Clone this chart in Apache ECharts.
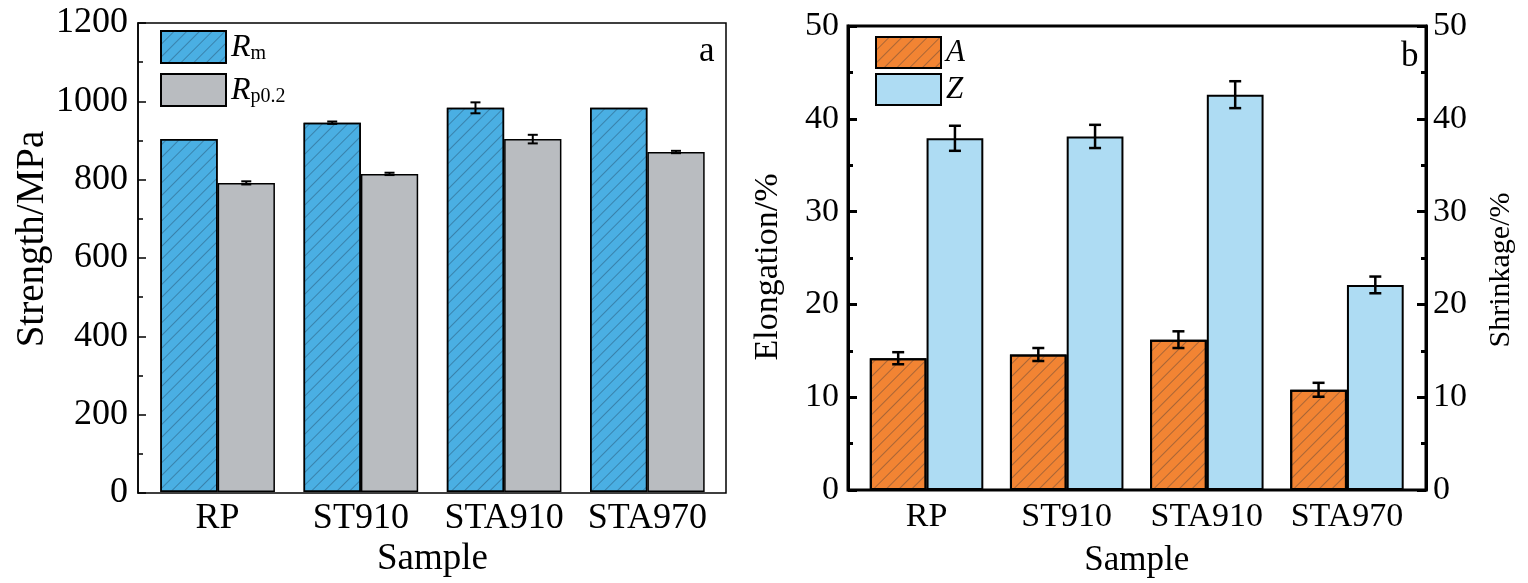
<!DOCTYPE html>
<html lang="en">

<head>
    <meta charset="UTF-8">
    <title>Strength and plasticity</title>
    <script src="https://cdn.jsdelivr.net/npm/echarts@6/dist/echarts.min.js"></script>
    <style>
        body {
            margin: 0;
            background: #fff;
        }

        #container {
            width: 1528px;
            height: 583px;
        }
    </style>
</head>

<body>
    <div id="container"></div>
</body>
<script>
    // data
    var samples = ['RP', 'ST910', 'STA910', 'STA970'];
    var rmVals = [903, 945, 983, 983];
    var rmErr = [0, 3, 14, 0];
    var rpVals = [791, 814, 903, 870];
    var rpErr = [4, 3, 11, 3];
    var aVals = [14.2, 14.6, 16.2, 10.8];
    var aErr = [0.65, 0.7, 0.9, 0.75];
    var zVals = [37.9, 38.1, 42.6, 22.1];
    var zErr = [1.35, 1.25, 1.45, 0.9];

    var FONT = 'Liberation Serif';
    var myChart = echarts.init(document.getElementById('container'));

    var hatch = {
        symbol: 'rect',
        symbolSize: 1,
        dashArrayX: [1, 0],
        dashArrayY: [1, 7.5],
        rotation: -Math.PI / 4,
        color: 'rgba(20,40,60,0.33)'
    };

    // error bar drawn on top of a bar; shift is fraction of the category band
    function errBar(shift, cap, lw) {
        return function (params, api) {
            var i = api.value(0), v = api.value(1), e = api.value(2);
            if (!e) return;
            var band = api.size([1, 0])[0];
            var x = api.coord([i, v])[0] + shift * band;
            var y1 = api.coord([i, v + e])[1];
            var y2 = api.coord([i, v - e])[1];
            var st = { stroke: '#000', lineWidth: lw };
            return {
                type: 'group',
                children: [
                    { type: 'line', shape: { x1: x, y1: y1, x2: x, y2: y2 }, style: st },
                    { type: 'line', shape: { x1: x - cap, y1: y1, x2: x + cap, y2: y1 }, style: st },
                    { type: 'line', shape: { x1: x - cap, y1: y2, x2: x + cap, y2: y2 }, style: st }
                ]
            };
        };
    }

    function triples(vals, errs) {
        return vals.map(function (v, k) { return [k, v, errs[k]]; });
    }

    function txt(size) {
        return { fontFamily: FONT, fontSize: size, color: '#000' };
    }
    function plain(v) { return String(v); }

    var option = {
        animation: false,
        title: [
            { text: 'a', left: 699, top: 34, padding: 0, textStyle: { fontFamily: FONT, fontSize: 35, fontWeight: 'normal', color: '#000' } },
            { text: 'b', left: 1401, top: 39, padding: 0, textStyle: { fontFamily: FONT, fontSize: 35, fontWeight: 'normal', color: '#000' } }
        ],
        legend: [
            {
                data: ['Rm', 'Rp0.2'],
                orient: 'vertical',
                left: 160,
                top: 30,
                padding: 0,
                icon: 'rect',
                itemWidth: 65,
                itemHeight: 32,
                itemGap: 9,
                formatter: function (name) {
                    return name === 'Rm' ? '{i|R}{s|m}' : '{i|R}{s|p0.2}';
                },
                textStyle: {
                    rich: {
                        i: { fontFamily: FONT, fontSize: 32, fontStyle: 'italic', color: '#000', lineHeight: 34, verticalAlign: 'bottom' },
                        s: { fontFamily: FONT, fontSize: 20, color: '#000', lineHeight: 15, verticalAlign: 'bottom' }
                    }
                }
            },
            {
                data: ['A', 'Z'],
                orient: 'vertical',
                left: 875,
                top: 36,
                padding: 0,
                icon: 'rect',
                itemWidth: 65,
                itemHeight: 31,
                itemGap: 4,
                textStyle: { fontFamily: FONT, fontSize: 31, fontStyle: 'italic', color: '#000' }
            }
        ],
        grid: [
            { left: 138, top: 23, width: 588, height: 470, show: true, borderColor: '#000', borderWidth: 1.5 },
            { left: 146, top: 23, width: 573, height: 470 },
            { left: 848, top: 26, width: 578, height: 464, show: true, borderColor: '#000', borderWidth: 3 },
            { left: 856.5, top: 26, width: 560.5, height: 464 }
        ],
        xAxis: [
            { gridIndex: 0, type: 'value', show: false },
            {
                gridIndex: 1, type: 'category', data: samples,
                axisLine: { show: false },
                axisTick: { inside: true, length: 7, lineStyle: { color: '#000', width: 1.5 } },
                axisLabel: Object.assign({ margin: 8, interval: 0 }, txt(36)),
                name: 'Sample', nameLocation: 'middle', nameGap: 45, nameTextStyle: txt(37)
            },
            { gridIndex: 2, type: 'value', show: false },
            {
                gridIndex: 3, type: 'category', data: samples,
                axisLine: { show: false },
                axisTick: { inside: true, length: 7, lineStyle: { color: '#000', width: 3 } },
                axisLabel: Object.assign({ margin: 10, interval: 0 }, txt(34)),
                name: 'Sample', nameLocation: 'middle', nameGap: 53, nameTextStyle: txt(35)
            },
            {
                gridIndex: 3, type: 'category', data: samples, position: 'bottom',
                axisLine: { show: false },
                axisTick: { inside: true, alignWithLabel: true, length: 4, lineStyle: { color: '#000', width: 3 } },
                axisLabel: { show: false }
            }
        ],
        yAxis: [
            {
                gridIndex: 0, type: 'value', min: 0, max: 1200, interval: 200,
                axisLine: { show: true, lineStyle: { color: '#000', width: 1.5 } },
                axisTick: { inside: true, length: 8, lineStyle: { color: '#000', width: 1.5 } },
                minorTick: { show: true, splitNumber: 2, length: 5, lineStyle: { color: '#000', width: 1.5 } },
                splitLine: { show: false },
                axisLabel: Object.assign({ margin: 10, formatter: plain }, txt(36)),
                name: 'Strength/MPa', nameLocation: 'middle', nameGap: 84,
                nameTextStyle: Object.assign({ padding: [0, 0, 0, 38] }, txt(39))
            },
            { gridIndex: 1, type: 'value', min: 0, max: 1200, show: false },
            {
                gridIndex: 2, type: 'value', min: 0, max: 50, interval: 10, position: 'left',
                axisLine: { show: true, lineStyle: { color: '#000', width: 3 } },
                axisTick: { inside: true, length: 9, lineStyle: { color: '#000', width: 3 } },
                minorTick: { show: true, splitNumber: 2, length: 5, lineStyle: { color: '#000', width: 3 } },
                splitLine: { show: false },
                axisLabel: Object.assign({ margin: 9, formatter: plain }, txt(34)),
                name: 'Elongation/%', nameLocation: 'middle', nameGap: 63,
                nameTextStyle: Object.assign({ padding: [0, 18, 0, 0] }, txt(34))
            },
            {
                gridIndex: 2, type: 'value', min: 0, max: 50, interval: 10, position: 'right',
                axisLine: { show: true, lineStyle: { color: '#000', width: 3 } },
                axisTick: { inside: true, length: 9, lineStyle: { color: '#000', width: 3 } },
                minorTick: { show: true, splitNumber: 2, length: 5, lineStyle: { color: '#000', width: 3 } },
                splitLine: { show: false },
                axisLabel: Object.assign({ margin: 7, formatter: plain }, txt(34)),
                name: 'Shrinkage/%', nameLocation: 'middle', nameGap: 60,
                nameTextStyle: Object.assign({ padding: [0, 24, 0, 0] }, txt(30))
            },
            { gridIndex: 3, type: 'value', min: 0, max: 50, show: false }
        ],
        series: [
            {
                name: 'Rm', type: 'bar', xAxisIndex: 1, yAxisIndex: 1,
                barGap: '0%', barCategoryGap: '20%',
                data: rmVals,
                itemStyle: { color: '#4AAFE3', borderColor: '#000', borderWidth: 1.5, decal: hatch }
            },
            {
                name: 'Rp0.2', type: 'bar', xAxisIndex: 1, yAxisIndex: 1,
                barGap: '0%', barCategoryGap: '20%',
                data: rpVals,
                itemStyle: { color: '#B9BCC0', borderColor: '#000', borderWidth: 1.5 }
            },
            {
                type: 'custom', xAxisIndex: 1, yAxisIndex: 1, z: 5,
                renderItem: errBar(-0.2, 5, 2), data: triples(rmVals, rmErr)
            },
            {
                type: 'custom', xAxisIndex: 1, yAxisIndex: 1, z: 5,
                renderItem: errBar(0.2, 5, 2), data: triples(rpVals, rpErr)
            },
            {
                name: 'A', type: 'bar', xAxisIndex: 3, yAxisIndex: 4,
                barGap: '0%', barCategoryGap: '19%',
                data: aVals,
                itemStyle: { color: '#F28433', borderColor: '#000', borderWidth: 2, decal: hatch }
            },
            {
                name: 'Z', type: 'bar', xAxisIndex: 3, yAxisIndex: 4,
                barGap: '0%', barCategoryGap: '19%',
                data: zVals,
                itemStyle: { color: '#AEDCF3', borderColor: '#000', borderWidth: 2 }
            },
            {
                type: 'custom', xAxisIndex: 3, yAxisIndex: 4, z: 5,
                renderItem: errBar(-0.2025, 6, 2.5), data: triples(aVals, aErr)
            },
            {
                type: 'custom', xAxisIndex: 3, yAxisIndex: 4, z: 5,
                renderItem: errBar(0.2025, 6, 2.5), data: triples(zVals, zErr)
            }
        ]
    };

    myChart.setOption(option);
</script>

</html>
